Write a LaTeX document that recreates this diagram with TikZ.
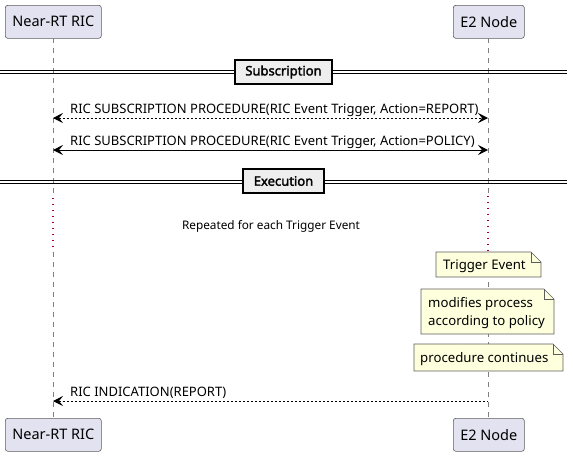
\documentclass[tikz,border=0pt]{standalone}
\usepackage{fontspec}
\setmainfont{Noto Sans}[AutoFakeBold=2.2]
\usetikzlibrary{arrows.meta,shapes.misc}
\definecolor{partfill}{HTML}{E2E2F0}
\definecolor{partdraw}{HTML}{181818}
\definecolor{notefill}{HTML}{FEFFDD}
\definecolor{notedraw}{HTML}{181818}
\definecolor{divfill}{HTML}{EEEEEE}
\definecolor{delayred}{HTML}{A80036}
\definecolor{lifegray}{HTML}{808080}
\tikzset{
  part/.style={draw=partdraw!70, fill=partfill, rounded corners=2.5pt, line width=0.6pt,
    minimum height=33pt, inner xsep=0pt, font=\fontsize{14.5}{16}\selectfont, anchor=north west},
  divbox/.style={draw=black, fill=divfill, line width=1.4pt, minimum height=24pt,
    inner xsep=0pt, font=\fontsize{13}{15}\selectfont\bfseries},
  msg/.style={font=\fontsize{13}{15}\selectfont, anchor=base west, inner sep=0pt},
  lifeline/.style={draw=lifegray, line width=0.6pt, dash pattern=on 5pt off 5pt},
  delayline/.style={draw=delayred, line width=1.1pt, dash pattern=on 1.2pt off 4.8pt},
  arr/.style={line width=0.8pt, {Stealth[length=10pt,width=10pt,inset=4pt]}-{Stealth[length=10pt,width=10pt,inset=4pt]}},
  larr/.style={line width=0.8pt, {Stealth[length=10pt,width=10pt,inset=4pt]}-},
  dline/.style={dash pattern=on 2pt off 2pt},
  notetext/.style={font=\fontsize{13.2}{18.5}\selectfont, align=left, anchor=north west, inner sep=0pt},
}
\newcommand{\notebox}[5]{% name, x1, y1, x2, y2
  \fill[notefill] (#2,#3) -- (#4-10,#3) -- (#4,#3+10) -- (#4,#5) -- (#2,#5) -- cycle;
  \draw[notedraw!70, line width=0.6pt] (#2,#3) -- (#4-10,#3) -- (#4,#3+10) -- (#4,#5) -- (#2,#5) -- cycle;
  \draw[notedraw!70, line width=0.6pt] (#4-10,#3) -- (#4-10,#3+10) -- (#4,#3+10);
  \coordinate (#1) at (#2,#3);
}
\begin{document}
\begin{tikzpicture}[x=1pt,y=-1pt]
\useasboundingbox (0,0) rectangle (573,456);
% participants
\node[part, minimum width=96pt] (ricTop) at (5,5) {Near-RT RIC};
\node[part, minimum width=71pt] (e2Top) at (453,5) {E2 Node};
\node[part, minimum width=96pt] (ricBot) at (5,418) {Near-RT RIC};
\node[part, minimum width=71pt] (e2Bot) at (453,418) {E2 Node};
% lifeline coordinates
\coordinate (ricA) at (53,38);
\coordinate (ricB) at (53,198);
\coordinate (ricC) at (53,252);
\coordinate (ricD) at (53,418);
\coordinate (e2A) at (488,38);
\coordinate (e2B) at (488,196);
\coordinate (e2C) at (488,252);
\coordinate (e2D) at (488,418);
\draw[lifeline] (ricA) -- (ricB);
\draw[delayline] (ricB) -- (ricC);
\draw[lifeline] (ricC) -- (ricD);
\draw[lifeline] (e2A) -- (e2B);
\draw[delayline] (e2B) -- (e2C);
\draw[lifeline] (e2C) -- (e2D);
% Subscription divider
\coordinate (subL) at (0,71.5);
\coordinate (subR) at (567,71.5);
\draw[line width=0.7pt] ([yshift=-1.5pt]subL) -- ([yshift=-1.5pt]subR);
\draw[line width=0.7pt] ([yshift=1.5pt]subL) -- ([yshift=1.5pt]subR);
\node[divbox, minimum width=97pt] (subBox) at (283.5,72) {Subscription};
% messages
\coordinate (m1L) at (53,118);
\coordinate (m1R) at (488,118);
\draw[arr, dline] (m1L) -- (m1R);
\node[msg] (m1t) at (70,113.5) {RIC SUBSCRIPTION PROCEDURE(RIC Event Trigger, Action=REPORT)};
\coordinate (m2L) at (53,150);
\coordinate (m2R) at (488,150);
\draw[arr] (m2L) -- (m2R);
\node[msg] (m2t) at (70,145) {RIC SUBSCRIPTION PROCEDURE(RIC Event Trigger, Action=POLICY)};
% Execution divider
\coordinate (exL) at (0,182);
\coordinate (exR) at (567,182);
\draw[line width=0.7pt] ([yshift=-1.5pt]exL) -- ([yshift=-1.5pt]exR);
\draw[line width=0.7pt] ([yshift=1.5pt]exL) -- ([yshift=1.5pt]exR);
\node[divbox, minimum width=81pt] (exBox) at (283.5,181) {Execution};
% delay text
\node[font=\fontsize{11.8}{13}\selectfont, inner sep=0pt] (delayT) at (271,226) {Repeated for each Trigger Event};
% notes
\notebox{n1}{436}{252}{541}{277}
\node[notetext] (n1t) at (443,259.5) {Trigger Event};
\notebox{n2}{421}{289}{554}{334}
\node[notetext] (n2t) at (428,297) {modifies process\\according to policy};
\notebox{n3}{414}{344}{563}{371}
\node[notetext] (n3t) at (420,352.5) {procedure continues};
% indication
\coordinate (m3L) at (53,401);
\coordinate (m3R) at (488,401);
\draw[larr, dline] (m3L) -- (m3R);
\node[msg] (m3t) at (70,396.5) {RIC INDICATION(REPORT)};
\end{tikzpicture}
\end{document}
